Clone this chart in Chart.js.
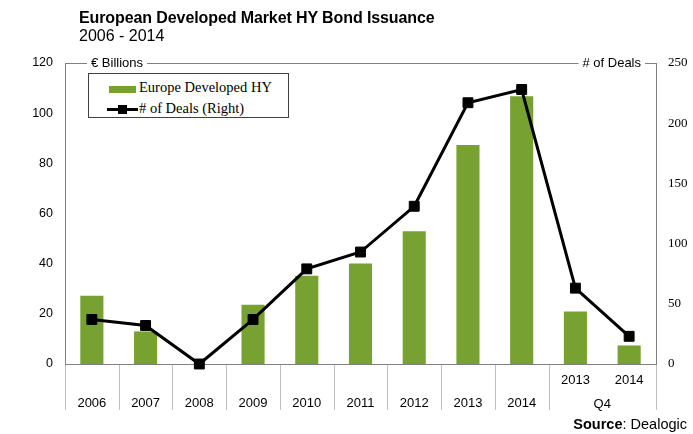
<!DOCTYPE html>
<html>
<head>
<meta charset="utf-8">
<script src="https://cdn.jsdelivr.net/npm/chart.js@4"></script>
<style>
  body { margin: 0; background: #fff; }
  #wrap { position: relative; width: 693px; height: 434px; }
  #graph { position: absolute; left: 0; top: 0; }
  .title { position: absolute; left: 79px; top: 9px; font: bold 16px "Liberation Sans", Arial, sans-serif; letter-spacing: -0.1px; color: #000; white-space: nowrap; }
  .subtitle { position: absolute; left: 79px; top: 27px; font: 16px "Liberation Sans", Arial, sans-serif; color: #000; }
  .legend { position: absolute; left: 88px; top: 73px; width: 199px; height: 43px; border: 1px solid #404040; background: #fff;
            font: 14.5px "Liberation Serif", "Times New Roman", serif; color: #000; }
  .legend .row { position: absolute; left: 0; height: 20px; line-height: 20px; white-space: nowrap; }
  .swatch { position: absolute; left: 20px; top: 9px; width: 27px; height: 7px; background: #77a232; }
  .ln { position: absolute; left: 18px; top: 10px; width: 31px; height: 3px; background: #000; }
  .mk { position: absolute; left: 29px; top: 7px; width: 9px; height: 9px; background: #000; }
  .source { position: absolute; right: 6px; top: 416px; font: 14.5px "Liberation Sans", Arial, sans-serif; color: #000; }
</style>
</head>
<body>
<div id="wrap">
  <canvas id="graph" width="693" height="434"></canvas>
  <div class="title">European Developed Market HY Bond Issuance</div>
  <div class="subtitle">2006 - 2014</div>
  <div class="legend">
    <div class="row" style="top:3px"><span class="swatch"></span><span style="position:absolute;left:50px">Europe Developed HY</span></div>
    <div class="row" style="top:24px"><span class="ln"></span><span class="mk"></span><span style="position:absolute;left:50px"># of Deals (Right)</span></div>
  </div>
  <div class="source"><b>Source</b>: Dealogic</div>
</div>
<script>
// annual years, then the two Q4 bars
const years = ['2006', '2007', '2008', '2009', '2010', '2011', '2012', '2013', '2014'];
const q4Years = ['2013', '2014'];
const q4Label = 'Q4';

const issuance = [27.2, 13.0, 0, 23.6, 35.2, 40.1, 52.9, 87.3, 106.7, 20.9, 7.4]; // EUR bn
const deals = [37, 32, 0, 37, 79, 93, 131, 217, 228, 63, 23];

const leftTicks = [0, 20, 40, 60, 80, 100, 120];
const rightTicks = [0, 50, 100, 150, 200, 250];

const green = '#77a232';
const greyLine = '#808080';

// two-row labels: year on bottom row, Q4 years on top row
const labels = years.map(y => ['', y]).concat(q4Years.map(y => [y, '']));

const frame = {
    id: 'frame',
    afterDraw(chart) {
        const ctx = chart.ctx;
        const a = chart.chartArea;
        const xs = chart.scales.x;
        const w = (a.right - a.left) / labels.length;
        ctx.save();

        // top border with the two axis captions sitting in gaps
        ctx.font = '13px "Liberation Sans", Arial, sans-serif';
        ctx.fillStyle = '#000';
        ctx.textBaseline = 'middle';
        const t1 = '\u20AC Billions';
        const t2 = '# of Deals';
        const x1 = a.left + 26;
        const w1 = ctx.measureText(t1).width;
        const w2 = ctx.measureText(t2).width;
        const x2 = a.right - 15 - w2;
        ctx.fillText(t1, x1, a.top);
        ctx.fillText(t2, x2, a.top);

        ctx.strokeStyle = greyLine;
        ctx.lineWidth = 1;
        const y = Math.round(a.top) + 0.5;
        ctx.beginPath();
        ctx.moveTo(a.left, y); ctx.lineTo(x1 - 4, y);
        ctx.moveTo(x1 + w1 + 4, y); ctx.lineTo(x2 - 4, y);
        ctx.moveTo(x2 + w2 + 4, y); ctx.lineTo(a.right, y);
        ctx.stroke();

        // category separators below the axis
        ctx.strokeStyle = '#bfbfbf';
        ctx.beginPath();
        for (let i = 0; i <= labels.length; i++) {
            if (i == years.length + 1) continue;
            const x = Math.round(a.left + i * w) + 0.5;
            ctx.moveTo(x, a.bottom + 1);
            ctx.lineTo(x, a.bottom + 46);
        }
        ctx.stroke();

        // group label under the Q4 bars
        ctx.font = '13px "Liberation Sans", Arial, sans-serif';
        ctx.textAlign = 'center';
        const qx = (xs.getPixelForValue(years.length) + xs.getPixelForValue(years.length + 1)) / 2;
        ctx.fillText(q4Label, qx, a.bottom + 40);
        ctx.restore();
    }
};

var ctx = document.getElementById('graph').getContext('2d');
var chart = new Chart(ctx, {
    type: 'bar',
    data: {
        labels: labels,
        datasets: [{
            type: 'line',
            label: '# of Deals (Right)',
            data: deals,
            yAxisID: 'y1',
            borderColor: '#000',
            borderWidth: 3,
            pointStyle: 'rect',
            pointRadius: 7,
            pointBackgroundColor: '#000',
            pointBorderColor: '#000',
            pointBorderWidth: 1,
            tension: 0,
            clip: false,
            order: 0
        }, {
            label: 'Europe Developed HY',
            data: issuance,
            yAxisID: 'y',
            backgroundColor: green,
            borderWidth: 0,
            categoryPercentage: 1,
            barPercentage: 0.43,
            order: 1
        }]
    },
    options: {
        responsive: false,
        animation: false,
        layout: { padding: { top: 63, bottom: 14, left: 0, right: 0 } },
        plugins: {
            legend: { display: false },
            title: { display: false },
            tooltip: { enabled: false }
        },
        scales: {
            x: {
                offset: true,
                grid: { display: false, drawTicks: false },
                border: { display: true, color: greyLine, width: 1 },
                ticks: {
                    color: '#000',
                    padding: 5,
                    maxRotation: 0,
                    autoSkip: false,
                    font: { family: '"Liberation Sans", Arial, sans-serif', size: 13, lineHeight: 1.77 }
                },
                afterFit: s => { s.height = 56; }
            },
            y: {
                position: 'left',
                min: 0,
                max: 120,
                grid: { display: false, drawTicks: false },
                border: { display: true, color: greyLine, width: 1 },
                ticks: {
                    color: '#000',
                    padding: 12,
                    font: { family: '"Liberation Sans", Arial, sans-serif', size: 12.5 }
                },
                afterBuildTicks: s => { s.ticks = leftTicks.map(v => ({ value: v })); },
                afterFit: s => { s.width = 65; }
            },
            y1: {
                position: 'right',
                min: 0,
                max: 250,
                grid: { display: false, drawTicks: false },
                border: { display: true, color: greyLine, width: 1 },
                ticks: {
                    color: '#000',
                    padding: 12,
                    font: { family: '"Liberation Serif", "Times New Roman", serif', size: 13 }
                },
                afterBuildTicks: s => { s.ticks = rightTicks.map(v => ({ value: v })); },
                afterFit: s => { s.width = 37; }
            }
        }
    },
    plugins: [frame]
});
</script>
</body>
</html>
